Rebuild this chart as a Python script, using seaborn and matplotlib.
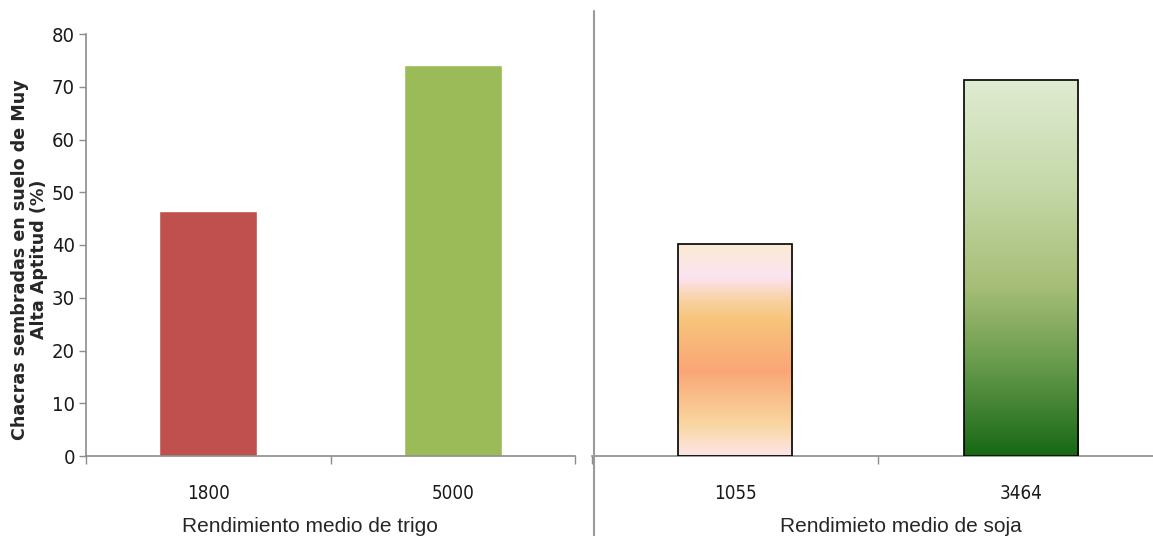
import numpy as np
import pandas as pd
import matplotlib
matplotlib.use("Agg")
import matplotlib.pyplot as plt
from matplotlib.colors import LinearSegmentedColormap
from matplotlib.lines import Line2D
import seaborn as sns

# data
trigo_labels = ["1800", "5000"]
trigo_values = [46.4, 74.1]
soja_labels = ["1055", "3464"]
soja_values = [40.2, 71.3]

ylabel = "Chacras sembradas en suelo de Muy\nAlta Aptitud (%)"
xlabel_trigo = "Rendimiento medio de trigo"
xlabel_soja = "Rendimieto medio de soja"

sns.set_style("white")
plt.rcParams["font.family"] = ["Liberation Sans", "DejaVu Sans"]

fig = plt.figure(figsize=(11.53, 5.36), dpi=100)
W, H = 1153, 536
ax1 = fig.add_axes([86 / W, 80 / H, 489 / W, 422 / H])
ax2 = fig.add_axes([592 / W, 80 / H, 572 / W, 422 / H])

spine_col = "#8C8C8C"

df1 = pd.DataFrame({"x": trigo_labels, "y": trigo_values})
df2 = pd.DataFrame({"x": soja_labels, "y": soja_values})

sns.barplot(data=df1, x="x", y="y", hue="x", palette=["#C0504D", "#9BBB59"],
            width=0.4, legend=False, ax=ax1, saturation=1)
sns.barplot(data=df2, x="x", y="y", hue="x", palette=["#ffffff", "#ffffff"],
            width=0.4, legend=False, ax=ax2, saturation=1)

# gradient fills for the soja bars
peach = LinearSegmentedColormap.from_list("peach", [
    (0.0, "#FAEBD2"), (0.16, "#FCE3F2"), (0.26, "#F9D3A6"), (0.36, "#F7C47A"),
    (0.6, "#FAA676"), (0.85, "#F9D6A0"), (1.0, "#FDE6E8")])
green = LinearSegmentedColormap.from_list("green", [
    (0.0, "#E0ECD3"), (0.3, "#C3D7A6"), (0.55, "#A6BE77"), (0.75, "#6A9C4E"),
    (1.0, "#176815")])
grad = np.linspace(0, 1, 256).reshape(-1, 1)
for patch, cmap in zip(ax2.patches, [peach, green]):
    x0, y0 = patch.get_x(), patch.get_y()
    w, h = patch.get_width(), patch.get_height()
    im = ax2.imshow(grad, cmap=cmap, aspect="auto", extent=[x0, x0 + w, y0, y0 + h],
                    origin="upper", zorder=patch.get_zorder() - 0.1)
    im.set_clip_path(patch)
    patch.set_facecolor("none")
    patch.set_edgecolor("black")
    patch.set_linewidth(1.2)
    patch.set_zorder(3)

for ax in (ax1, ax2):
    ax.set_ylim(0, 80)
    ax.set_xlim(-0.5, 1.5)
    ax.set_xticks([-0.5, 0.5, 1.5], minor=True)
    ax.tick_params(axis="x", which="minor", length=6, width=1, color=spine_col,
                   direction="out", bottom=True)
    ax.tick_params(axis="x", which="major", length=0, pad=20)
    ax.spines["top"].set_visible(False)
    ax.spines["right"].set_visible(False)
    ax.spines["bottom"].set_color(spine_col)
    ax.spines["bottom"].set_linewidth(1.2)
    for t in ax.get_xticklabels():
        t.set_fontfamily("DejaVu Sans")
        t.set_fontstretch("condensed")
        t.set_fontsize(13.5)
        t.set_color("#1a1a1a")

ax1.set_yticks(range(0, 81, 10))
ax1.tick_params(axis="y", length=5, width=1, color=spine_col, direction="out",
                left=True, pad=3)
for t in ax1.get_yticklabels():
    t.set_fontfamily("DejaVu Sans")
    t.set_fontstretch("condensed")
    t.set_fontsize(14.5)
    t.set_color("#1a1a1a")
ax1.spines["left"].set_color(spine_col)
ax1.spines["left"].set_linewidth(1.2)
ax1.set_ylabel(ylabel, fontsize=12.6, fontweight="bold", family="DejaVu Sans",
               linespacing=1.05)
ax1.yaxis.set_label_coords(-0.078, 0.465)
ax1.set_xlabel(xlabel_trigo, fontsize=15)
ax1.xaxis.set_label_coords(0.458, -0.145)

ax2.spines["left"].set_visible(False)
ax2.set_yticks([])
ax2.set_ylabel("")
ax2.set_xlabel(xlabel_soja, fontsize=15)
ax2.xaxis.set_label_coords(0.54, -0.145)

# separator line between the two panels
fig.add_artist(Line2D([594 / W, 594 / W], [0, 1 - 11 / H], color="#9A9A9A",
                      linewidth=1.5, transform=fig.transFigure))

fig.savefig("out.png", dpi=100)
